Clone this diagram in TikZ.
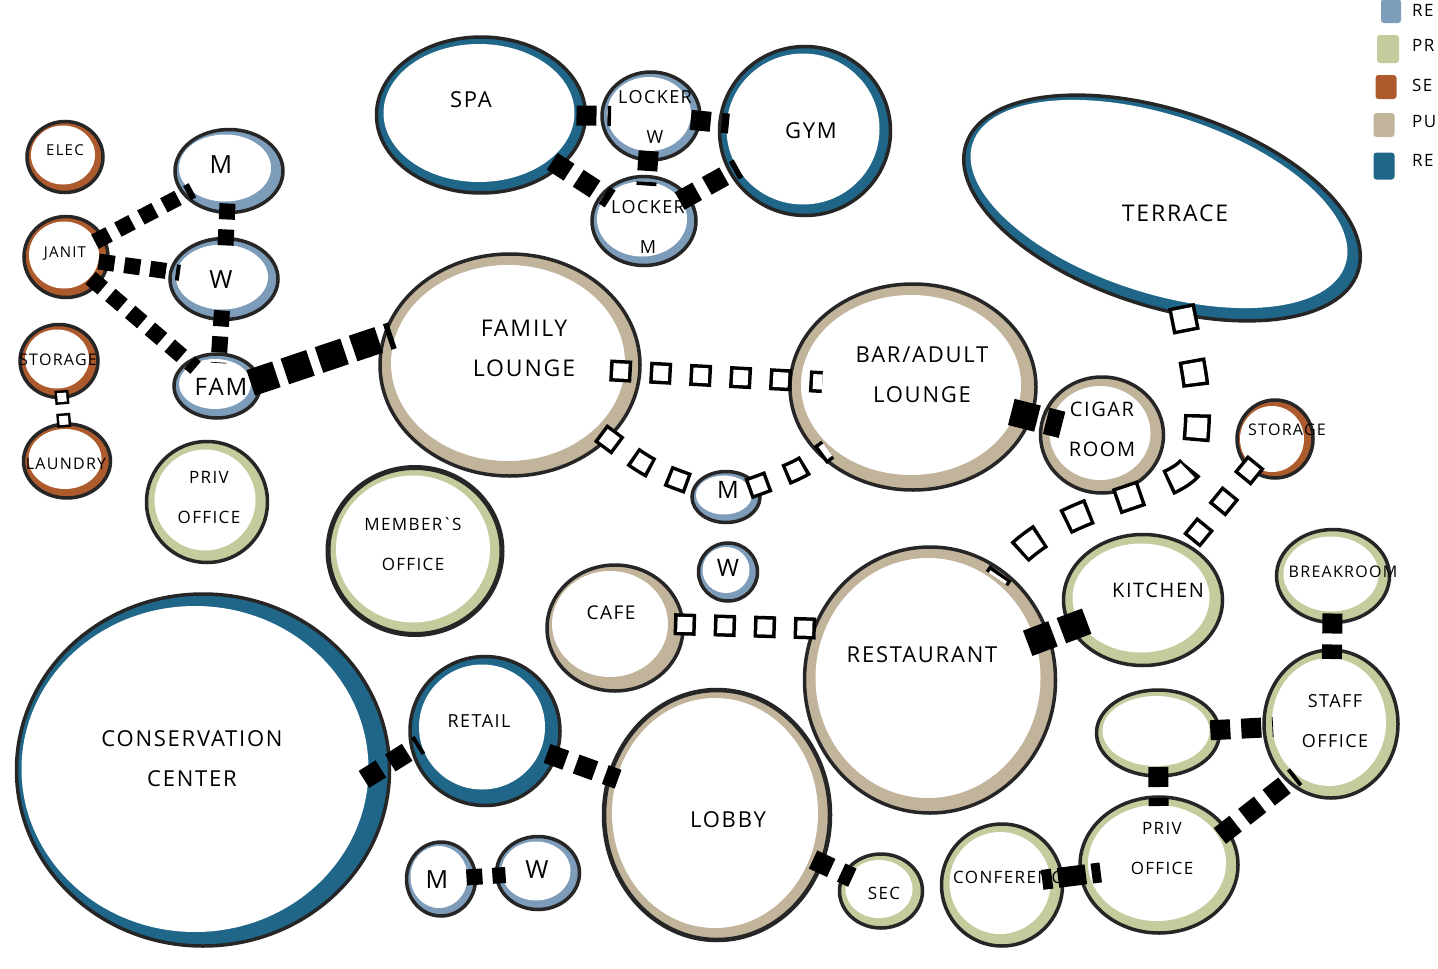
\documentclass[tikz,border=0pt]{standalone}
\usepackage{fontspec}
\newfontfamily\roomfont[LetterSpace=8]{Open Sans}
\usepackage{tikz}
\usetikzlibrary{shapes.geometric,calc}

\definecolor{restroom}{HTML}{7D9CB9}
\definecolor{private}{HTML}{C3CC9C}
\definecolor{service}{HTML}{AD5A2C}
\definecolor{public}{HTML}{C2B39B}
\definecolor{recreation}{HTML}{1F6689}
\definecolor{ink}{HTML}{262626}

\tikzset{
  band/.store in=\rband, band=8pt,
  ringdx/.store in=\rdx, ringdx=-2pt,
  ringdy/.store in=\rdy, ringdy=2pt,
  rw/.store in=\rw, rh/.store in=\rh,
}

\begin{document}
\begin{tikzpicture}[x=1pt, y=-1pt,
    wh/.style 2 args={minimum width=#1, minimum height=#2, rw=#1, rh=#2},
    room/.style={ellipse, draw=ink, line width=3.5pt, fill=#1, inner sep=0pt, outer sep=0pt,
        path picture={\fill[white] ([xshift=\rdx, yshift=\rdy]path picture bounding box.center)
            ellipse [x radius={\rw/2-\rband}, y radius={\rh/2-\rband}];}},
    lbl/.style={font=\roomfont\fontsize{#1}{40}\selectfont, align=center, inner sep=0pt},
    swatch/.style={fill=#1, rounded corners=3pt, minimum width=20pt, minimum height=25pt, inner sep=0pt},
    strong/.style={draw=black, line width=20pt, dash pattern=on 20pt off 11pt, shorten <=-9pt, shorten >=-9pt},
    strongsmall/.style={strong, line width=16pt, dash pattern=on 16pt off 10pt},
    strongbig/.style={strong, line width=27pt, dash pattern=on 27pt off 9pt},
    weak/.style={draw=black, line width=22pt, dash pattern=on 22pt off 18pt, shorten <=-9pt, shorten >=-9pt,
        postaction={draw=white, line width=15pt, dash pattern=on 15pt off 25pt, dash phase=36.5pt}},
    weaksmall/.style={draw=black, line width=14pt, dash pattern=on 14pt off 9pt, shorten <=-7pt, shorten >=-7pt,
        postaction={draw=white, line width=9pt, dash pattern=on 9pt off 14pt, dash phase=20.5pt}},
    weakbig/.style={draw=black, line width=27pt, dash pattern=on 27pt off 28pt, shorten <=-9pt, shorten >=-9pt,
        postaction={draw=white, line width=20pt, dash pattern=on 20pt off 35pt, dash phase=51.5pt}}
]
\useasboundingbox (0,0) rectangle (1438,969);
\fill[white] (0,0) rectangle (1438,969);

% rooms
\node[room=service, wh={76}{71}, band=6pt] (elec) at (65,157) {};
\node[room=service, wh={84}{81}, band=7pt] (janit) at (66,257) {};
\node[room=service, wh={78}{73}, band=7pt] (stor-l) at (59,361) {};
\node[room=service, wh={87}{74}, band=7pt] (laundry) at (67,461) {};
\node[room=restroom, wh={108}{83}, ringdx=-4pt, ringdy=3pt] (m-top) at (229,171) {};
\node[room=restroom, wh={108}{81}] (w-top) at (224,279) {};
\node[room=restroom, wh={86}{64}, band=7pt] (fam) at (217,386) {};
\node[room=private, wh={121}{121}, band=10pt] (priv-l) at (207,502) {};
\node[room=private, wh={174}{167}, band=10pt, line width=5pt] (member) at (415,551) {};
\node[room=recreation, wh={373}{352}, band=13pt, ringdx=-8pt, ringdy=1pt] (conserv) at (203,770) {};
\node[room=recreation, wh={150}{149}, band=12pt, ringdx=-3pt, ringdy=4pt] (retail) at (485,731) {};
\node[room=restroom, wh={69}{74}, band=6pt] (m-bot) at (441,879) {};
\node[room=restroom, wh={83}{73}, band=7pt] (w-bot) at (538,873) {};
\node[room=public, wh={226}{250}, band=10pt, line width=4.5pt] (lobby) at (717,815) {};
\node[room=private, wh={83}{74}] (sec) at (881,891) {};
\node[room=private, wh={121}{122}, band=10pt] (conf) at (1002,885) {};
\node[room=private, wh={158}{136}, band=10pt] (priv-r) at (1159,865) {};
\node[room=private, wh={123}{86}] (spare) at (1158,733) {};
\node[room=private, wh={134}{148}, band=10pt] (staff) at (1331,724) {};
\node[room=private, wh={113}{93}, band=9pt] (break) at (1333,576) {};
\node[room=private, wh={159}{131}, band=11pt] (kitchen) at (1143,600) {};
\node[room=public, wh={251}{266}, band=13pt] (restaurant) at (930,680) {};
\node[room=public, wh={136}{126}, band=10pt, ringdx=-5pt, ringdy=4pt] (cafe) at (615,628) {};
\node[room=restroom, wh={59}{58}, band=6pt] (w-mid) at (728,572) {};
\node[room=restroom, wh={68}{51}, band=6pt] (m-mid) at (726,497) {};
\node[room=public, wh={260}{222}, band=13pt] (famlounge) at (510,365) {};
\node[room=public, wh={246}{206}, band=13pt] (bar) at (913,387) {};
\node[room=public, wh={123}{116}, band=11pt] (cigar) at (1102,435) {};
\node[room=service, wh={76}{78}, band=6pt, ringdx=-3pt, ringdy=0pt] (stor-r) at (1275,439) {};
\node[ellipse, draw=ink, line width=3.5pt, fill=recreation, wh={412}{196}, rotate=-18,
    inner sep=0pt, outer sep=0pt] (terrace) at (1162,208) {};
\node[ellipse, fill=white, minimum width=392, minimum height=178, rotate=-18, inner sep=0pt] (terrace-in) at (1159,204) {};
\node[room=recreation, wh={209}{156}, band=9pt] (spa) at (481,115) {};
\node[room=restroom, wh={98}{88}, band=7pt] (lock-w) at (651,116) {};
\node[room=restroom, wh={104}{89}, band=7pt] (lock-m) at (644,221) {};
\node[room=recreation, wh={171}{169}, band=9pt] (gym) at (805,131) {};

% labels
\node[lbl=15] (elec-t) at (65,150) {ELEC};
\node[lbl=15] (janit-t) at (65,254) {JANIT};
\node[lbl=16] (stor-l-t) at (58,360) {STORAGE};
\node[lbl=16] (laundry-t) at (66,464) {LAUNDRY};
\node[lbl=25] (m-top-t) at (221,165) {M};
\node[lbl=25] (w-top-t) at (221,280) {W};
\node[lbl=24] (fam-t) at (221,387) {FAM};
\node[lbl=17] (priv-l-t) at (209,498) {PRIV\\OFFICE};
\node[lbl=17] (member-t) at (413,544) {MEMBER\textasciigrave S\\OFFICE};
\node[lbl=22] (conserv-t) at (192,759) {CONSERVATION\\CENTER};
\node[lbl=18] (retail-t) at (479,721) {RETAIL};
\node[lbl=25] (m-bot-t) at (437,880) {M};
\node[lbl=25] (w-bot-t) at (537,870) {W};
\node[lbl=22] (lobby-t) at (728,820) {LOBBY};
\node[lbl=17] (sec-t) at (884,893) {SEC};
\node[lbl=17, anchor=west] (conf-t) at (953,877) {CONFERENCE};
\node[lbl=17] (priv-r-t) at (1162,849) {PRIV\\OFFICE};
\node[lbl=18] (staff-t) at (1335,721) {STAFF\\OFFICE};
\node[lbl=16] (break-t) at (1343,572) {BREAKROOM};
\node[lbl=20] (kitchen-t) at (1158,590) {KITCHEN};
\node[lbl=22] (restaurant-t) at (922,655) {RESTAURANT};
\node[lbl=19] (cafe-t) at (611,613) {CAFE};
\node[lbl=24] (w-mid-t) at (728,568) {W};
\node[lbl=24] (m-mid-t) at (728,490) {M};
\node[lbl=23] (famlounge-t) at (524,348) {FAMILY\\LOUNGE};
\node[lbl=22] (bar-t) at (922,375) {BAR/ADULT\\LOUNGE};
\node[lbl=20] (cigar-t) at (1102,429) {CIGAR\\ROOM};
\node[lbl=16] (stor-r-t) at (1287,430) {STORAGE};
\node[lbl=23] (terrace-t) at (1175,213) {TERRACE};
\node[lbl=22] (spa-t) at (471,100) {SPA};
\node[lbl=18] (lock-w-t) at (655,117) {LOCKER\\W};
\node[lbl=18] (lock-m-t) at (648,227) {LOCKER\\M};
\node[lbl=22] (gym-t) at (811,131) {GYM};

% legend
\node[swatch=restroom, minimum height=24pt] (k-rest) at (1391,11) {};
\node[swatch=private, minimum width=22pt, minimum height=28pt] (k-priv) at (1388,49) {};
\node[swatch=service, minimum width=21pt, minimum height=24pt] (k-serv) at (1386,87) {};
\node[swatch=public, minimum width=21pt, minimum height=24pt] (k-pub) at (1384,125) {};
\node[swatch=recreation, minimum width=21pt, minimum height=27pt] (k-rec) at (1384,166) {};
\node[lbl=17, anchor=west] (k-rest-t) at (1412,10) {RE};
\node[lbl=17, anchor=west] (k-priv-t) at (1412,45) {PR};
\node[lbl=17, anchor=west] (k-serv-t) at (1412,85) {SE};
\node[lbl=17, anchor=west] (k-pub-t) at (1412,122) {PU};
\node[lbl=17, anchor=west] (k-rec-t) at (1412,160) {RE};

% adjacencies
\draw[strongsmall] (janit) -- (m-top);
\draw[strongsmall] (janit) -- (w-top);
\draw[strongsmall] (janit) -- (fam);
\draw[strongsmall] (m-top) -- (w-top);
\draw[strongsmall] (w-top) -- (fam);
\draw[strongbig] (fam.8) -- (famlounge.168);
\draw[weaksmall] (stor-l) -- (laundry);
\draw[strong] (spa) -- (lock-w);
\draw[strong] (spa) -- (lock-m);
\draw[strong] (lock-w) -- (lock-m);
\draw[strong] (lock-w) -- (gym);
\draw[strong] (lock-m) -- (gym);
\draw[weak, shorten <=-30pt, shorten >=-32pt] (famlounge) -- (bar);
\draw[weak] (famlounge) .. controls (650,470) .. (m-mid);
\draw[weak] (m-mid) .. controls (800,470) .. (bar);
\draw[weak] (cafe.3) -- (restaurant.156);
\draw[strongbig, shorten <=-20pt, shorten >=-20pt] (bar) -- (cigar);
\draw[weakbig] (terrace) .. controls (1200,400) .. (1194,462)
    .. controls (1176,500) and (1050,498) .. (restaurant);
\draw[weak] (stor-r) -- (kitchen);
\draw[strongbig, shorten <=-22pt, shorten >=-22pt] (restaurant) -- (kitchen);
\draw[strong] (break) -- (staff);
\draw[strong] (spare) -- (staff);
\draw[strong] (spare) -- (priv-r);
\draw[strong] (priv-r.27) -- (staff.234);
\draw[strong, shorten <=-20pt, shorten >=-20pt, dash pattern=on 28pt off 6pt, dash phase=18pt] (conf) -- (priv-r);
\draw[strong] (lobby) -- (sec);
\draw[strong] (retail) -- (lobby);
\draw[strong, shorten <=-30pt] (conserv.2) -- (retail.194);
\draw[strongsmall] (m-bot) -- (w-bot);
\end{tikzpicture}
\end{document}
